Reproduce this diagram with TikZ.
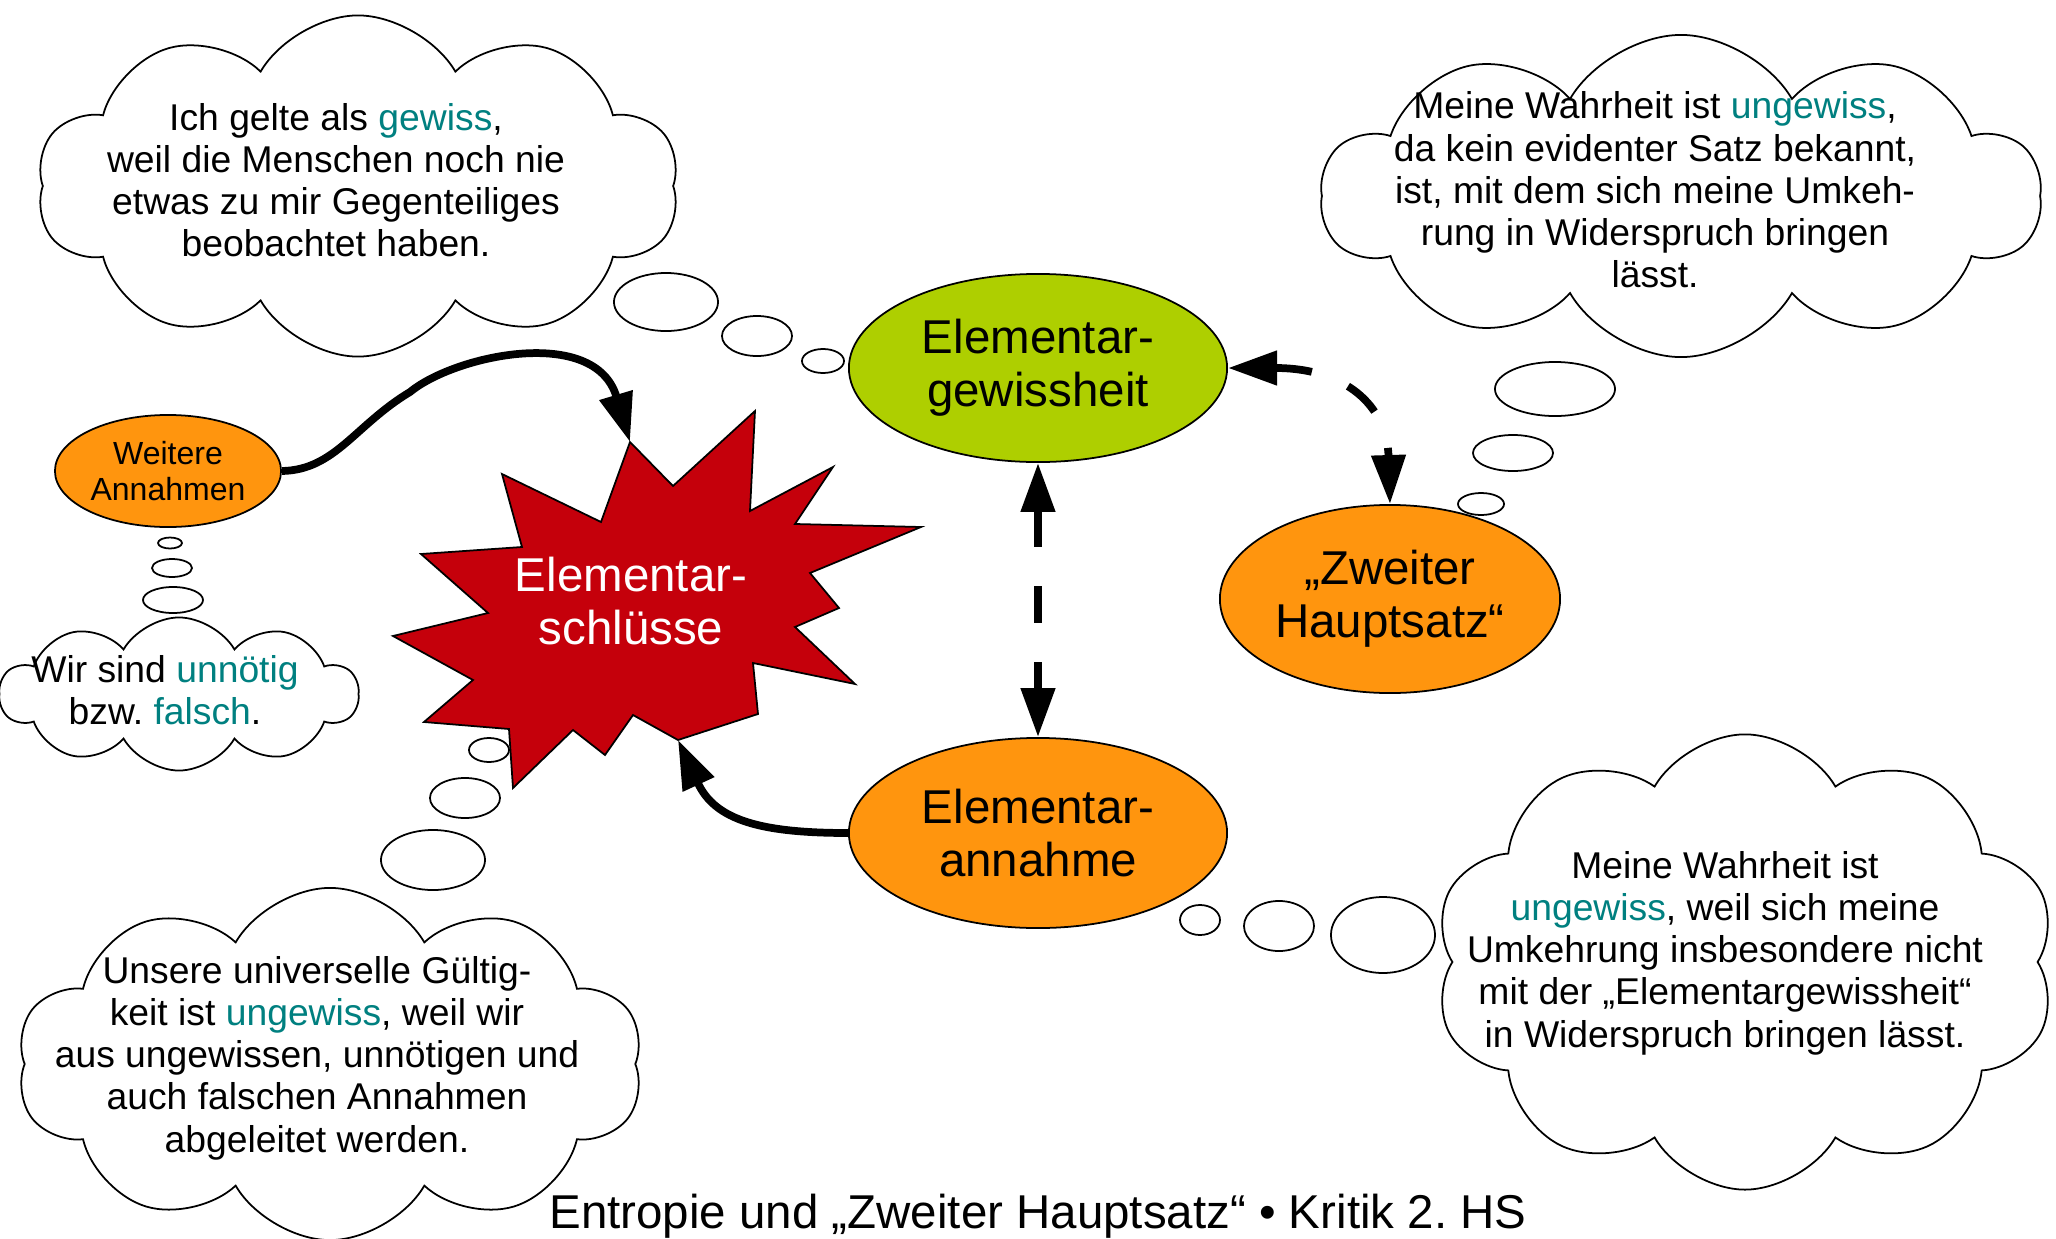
\documentclass[tikz,border=0pt]{standalone}
\usepackage{fontspec}
\setmainfont{Liberation Sans}
\usepackage{tikz}
\usetikzlibrary{arrows.meta,shapes.geometric,shapes.symbols}

\definecolor{gruen}{HTML}{AECF00}
\definecolor{orangefill}{HTML}{FF950E}
\definecolor{sternrot}{HTML}{C5000B}
\definecolor{akzent}{HTML}{008080}
\newcommand{\akz}[1]{\textcolor{akzent}{#1}}

\tikzset{
  idea/.style={ellipse, draw, line width=0.5pt, inner sep=0pt, align=center, font=\fontsize{13.5}{15}\selectfont},
  wolke/.style={cloud, draw, fill=white, line width=0.5pt, cloud puffs=10, cloud puff arc=120, cloud ignores aspect, inner sep=0pt},
  gedanke/.style={align=center, font=\fontsize{10.6}{12}\selectfont},
  blase/.style={ellipse, draw, fill=white, line width=0.5pt, inner sep=0pt},
  flow/.style={line width=2.2pt, -{Triangle[length=0.49cm, width=0.33cm]}},
  wechsel/.style={line width=2.2pt, dash pattern=on 0.37cm off 0.39cm, {Triangle[length=0.49cm, width=0.33cm]}-{Triangle[length=0.49cm, width=0.33cm]}},
}

\begin{document}
\begin{tikzpicture}[x=0.01cm, y=-0.01cm]
  \useasboundingbox (0,0) rectangle (2056,1239);

  % clouds
  \node[wolke, minimum width=6.42cm, minimum height=3.41cm] (cA) at (358,186) {};
  \node[wolke, minimum width=7.19cm, minimum height=3.22cm] (cB) at (1681,196) {};
  \node[wolke, minimum width=3.58cm, minimum height=1.53cm] (cC) at (179,694) {};
  \node[wolke, minimum width=6.26cm, minimum height=3.52cm] (cD) at (330,1064) {};
  \node[wolke, minimum width=6.22cm, minimum height=4.55cm] (cE) at (1745,962) {};

  % bubbles
  \node[blase, minimum width=1.04cm, minimum height=0.58cm] (bA1) at (666,302) {};
  \node[blase, minimum width=0.70cm, minimum height=0.40cm] (bA2) at (757,336) {};
  \node[blase, minimum width=0.42cm, minimum height=0.24cm] (bA3) at (823,361) {};
  \node[blase, minimum width=1.20cm, minimum height=0.54cm] (bB1) at (1555,389) {};
  \node[blase, minimum width=0.80cm, minimum height=0.36cm] (bB2) at (1513,453) {};
  \node[blase, minimum width=0.46cm, minimum height=0.22cm] (bB3) at (1481,504) {};
  \node[blase, minimum width=0.24cm, minimum height=0.11cm] (bC1) at (170,543) {};
  \node[blase, minimum width=0.40cm, minimum height=0.18cm] (bC2) at (172,568) {};
  \node[blase, minimum width=0.60cm, minimum height=0.26cm] (bC3) at (173,600) {};
  \node[blase, minimum width=1.04cm, minimum height=0.60cm] (bD1) at (433,860) {};
  \node[blase, minimum width=0.70cm, minimum height=0.40cm] (bD2) at (465,798) {};
  \node[blase, minimum width=0.40cm, minimum height=0.24cm] (bD3) at (489,750) {};
  \node[blase, minimum width=0.40cm, minimum height=0.30cm] (bE1) at (1200,920) {};
  \node[blase, minimum width=0.70cm, minimum height=0.50cm] (bE2) at (1279,926) {};
  \node[blase, minimum width=1.04cm, minimum height=0.76cm] (bE3) at (1383,935) {};

  % cloud texts
  \node[gedanke] (tA) at (336,180) {Ich gelte als \akz{gewiss},\\weil die Menschen noch nie\\etwas zu mir Gegenteiliges\\beobachtet haben.};
  \node[gedanke] (tB) at (1655,190) {Meine Wahrheit ist \akz{ungewiss},\\da kein evidenter Satz bekannt,\\ist, mit dem sich meine Umkeh-\\rung in Widerspruch bringen\\lässt.};
  \node[gedanke] (tC) at (165,690) {Wir sind \akz{unnötig}\\bzw.\ \akz{falsch}.};
  \node[gedanke] (tD) at (317,1058) {Unsere universelle Gültig-\\keit ist \akz{ungewiss}, weil wir\\aus ungewissen, unnötigen und\\auch falschen Annahmen\\abgeleitet werden.};
  \node[gedanke] (tE) at (1725,953) {Meine Wahrheit ist\\\akz{ungewiss}, weil sich meine\\Umkehrung insbesondere nicht\\mit der „Elementargewissheit“\\in Widerspruch bringen lässt.};

  % star
  \filldraw[fill=sternrot, line width=0.5pt]
    (630,442) -- (673,486) -- (755,411) -- (750,511) -- (833,467) -- (795,524)
    -- (921,527) -- (810,573) -- (839,608) -- (795,627) -- (855,684) -- (753,663)
    -- (758,714) -- (678,740) -- (633,715) -- (605,755) -- (573,730) -- (513,788)
    -- (509,729) -- (424,722) -- (473,680) -- (393,636) -- (488,613) -- (421,554)
    -- (522,547) -- (502,474) -- (601,522) -- cycle;
  \coordinate (sTop) at (630,442);
  \coordinate (sBot) at (678,740);
  \node[align=center, text=white, font=\fontsize{13.5}{15}\selectfont] (es) at (631,601) {Elementar-\\schlüsse};

  % ellipses
  \node[idea, fill=gruen, minimum width=3.78cm, minimum height=1.88cm] (eg) at (1038,368) {Elementar-\\gewissheit};
  \node[idea, fill=orangefill, minimum width=3.40cm, minimum height=1.88cm] (zh) at (1390,599) {„Zweiter\\Hauptsatz“};
  \node[idea, fill=orangefill, minimum width=3.78cm, minimum height=1.90cm] (ea) at (1038,833) {Elementar-\\annahme};
  \node[idea, fill=orangefill, minimum width=2.26cm, minimum height=1.12cm, font=\fontsize{9.1}{10.4}\selectfont] (wa) at (168,471) {Weitere\\Annahmen};

  % arrows
  \draw[flow] (wa.east) .. controls (335,470) and (355,425) .. (410,392)
    .. controls (455,355) and (595,325) .. (sTop);
  \draw[flow] (ea.west) .. controls (760,833) and (715,820) .. (sBot);
  \draw[wechsel] (eg.south) -- (ea.north);
  \draw[wechsel] (eg.east) .. controls (1345,368) and (1387,405) .. (zh.north);

  \node[anchor=base, font=\fontsize{13.5}{15}\selectfont] (titel) at (1038,1228) {Entropie und „Zweiter Hauptsatz“ • Kritik 2.\ HS};
\end{tikzpicture}
\end{document}
